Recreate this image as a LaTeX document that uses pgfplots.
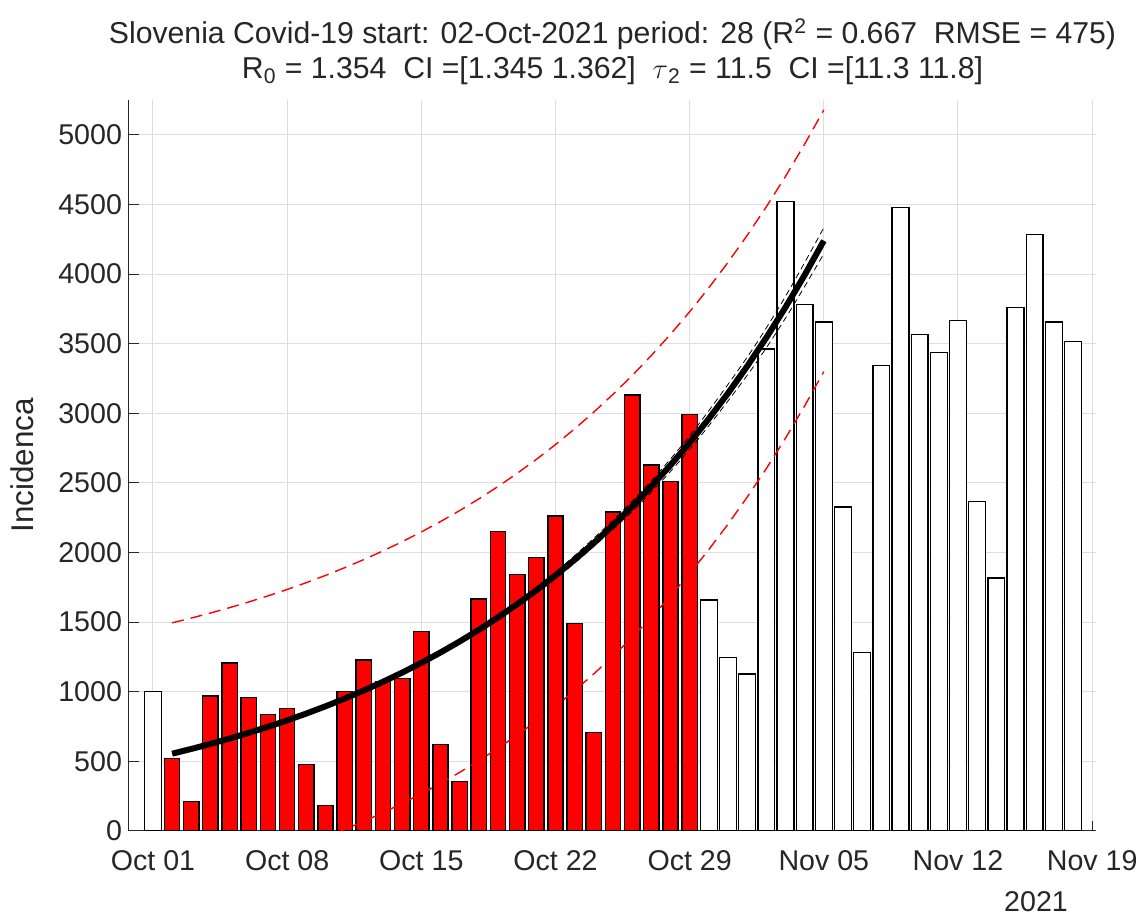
\documentclass[border=0pt]{standalone}
\usepackage{pgfplots}
\pgfplotsset{compat=1.18}
\usepackage{fontspec}
\setmainfont{Liberation Sans}
\definecolor{txt}{rgb}{0.15,0.15,0.15}
\definecolor{gridc}{rgb}{0.87,0.87,0.87}

\pgfplotstableread{
d v
0 1000
29 1660
30 1248
31 1127
32 3462
33 4520
34 3780
35 3656
36 2326
37 1284
38 3341
39 4477
40 3565
41 3435
42 3667
43 2366
44 1816
45 3761
46 4284
47 3656
48 3517
}\alldata

\pgfplotstableread{
d v
1 520
2 213
3 970
4 1207
5 960
6 838
7 879
8 479
9 182
10 1003
11 1228
12 1075
13 1094
14 1432
15 623
16 354
17 1667
18 2150
19 1844
20 1966
21 2263
22 1492
23 706
24 2292
25 3132
26 2629
27 2509
28 2991
}\fitdata

\pgfplotstableread{
d fit up lo
1 555.0 1495.0 -385.0
2 589.2 1529.2 -350.8
3 625.5 1565.5 -314.5
4 664.0 1604.0 -276.0
5 705.0 1645.0 -235.0
6 748.4 1688.4 -191.6
7 794.5 1734.5 -145.5
8 843.5 1783.5 -96.5
9 895.5 1835.5 -44.5
10 950.7 1890.7 10.7
11 1009.3 1949.3 69.3
12 1071.5 2011.5 131.5
13 1137.5 2077.5 197.5
14 1207.6 2147.6 267.6
15 1282.0 2222.0 342.0
16 1361.0 2301.0 421.0
17 1444.9 2384.9 504.9
18 1533.9 2473.9 593.9
19 1628.4 2568.4 688.4
20 1728.7 2668.7 788.7
21 1835.2 2775.2 895.2
22 1948.3 2888.3 1008.3
23 2068.4 3008.4 1128.4
24 2195.9 3135.9 1255.9
25 2331.2 3271.2 1391.2
26 2474.8 3414.8 1534.8
27 2627.3 3567.3 1687.3
28 2789.2 3729.2 1849.2
29 2961.1 3901.1 2021.1
30 3143.6 4083.6 2203.6
31 3337.3 4277.3 2397.3
32 3542.9 4482.9 2602.9
33 3761.2 4701.2 2821.2
34 3993.0 4933.0 3053.0
35 4239.0 5179.0 3299.0
}\curves

\pgfplotstableread{
d cup clo
1 555.0 555.0
5 706.7 703.1
9 900.2 890.8
13 1146.4 1128.6
17 1459.9 1429.9
21 1859.1 1811.3
25 2367.6 2294.8
28 2838.1 2740.3
31 3402.4 3272.2
33 3839.4 3683.0
35 4332.7 4145.3
}\ci

\begin{document}
\begin{tikzpicture}
\path[use as bounding box] (-64.5pt,-42.5pt) rectangle (506.5pt,415.5pt);
\begin{axis}[
  at={(0pt,0pt)}, anchor=south west,
  scale only axis, width=483.5pt, height=365.5pt,
  xmin=-1.25, xmax=49.2, ymin=0, ymax=5250,
  axis x line*=bottom, axis y line*=left,
  axis line style={txt, line width=0.5pt},
  tick align=inside, major tick length=5pt,
  tick style={txt, line width=0.5pt},
  xtick={0,7,...,49},
  xticklabels={Oct 01,Oct 08,Oct 15,Oct 22,Oct 29,Nov 05,Nov 12,Nov 19},
  ytick={0,500,...,5000},
  grid=major, grid style={gridc, line width=0.5pt},
  ticklabel style={font=\fontsize{14.3}{16}\selectfont, text=txt},
  xticklabel style={yshift=-6pt},
  /pgf/number format/assume math mode=true,
  /pgf/number format/1000 sep={},
  ylabel={Incidenca},
  ylabel style={font=\fontsize{15.7}{18}\selectfont, text=txt, at={(axis description cs:-0.1107,0.5)}, anchor=center},
  xlabel={2021},
  xlabel style={font=\fontsize{14.3}{16}\selectfont, text=txt, at={(axis description cs:0.938,0)}, anchor=center, yshift=-35.5pt},
  title={Slovenia Covid-19 start: 02-Oct-2021 period: 28 (R\textsuperscript{2} = 0.667~~RMSE = 475)\\R\textsubscript{0} = 1.354~~CI =[1.345 1.362]~~$\tau$\textsubscript{2} = 11.5~~CI =[11.3 11.8]},
  title style={font=\fontsize{15.1}{17.5}\selectfont, text=txt, align=center, at={(axis description cs:0.5,1)}, anchor=south, yshift=-2pt},
]
\addplot[ybar, bar shift=0pt, bar width=0.88, fill=white, draw=black, line width=0.7pt] table[x=d, y=v] {\alldata};
\addplot[ybar, bar shift=0pt, bar width=0.80, fill=red, draw=black, line width=0.7pt] table[x=d, y=v] {\fitdata};
\addplot[red, line width=0.7pt, dash pattern=on 6pt off 3.5pt] table[x=d, y=up] {\curves};
\addplot[red, line width=0.7pt, dash pattern=on 6pt off 3.5pt] table[x=d, y=lo] {\curves};
\addplot[black, line width=0.4pt, dash pattern=on 3pt off 2pt, smooth] table[x=d, y=cup] {\ci};
\addplot[black, line width=0.4pt, dash pattern=on 3pt off 2pt, smooth] table[x=d, y=clo] {\ci};
\addplot[black, line width=3pt] table[x=d, y=fit] {\curves};
\end{axis}
\end{tikzpicture}
\end{document}
